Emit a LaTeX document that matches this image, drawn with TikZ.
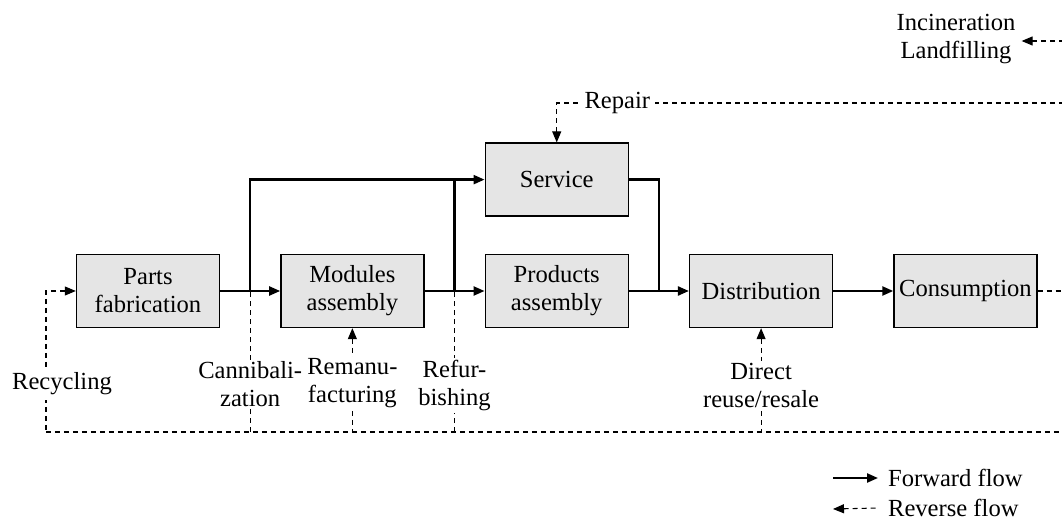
\documentclass[tikz,border=0pt]{standalone}
\usepackage{fontspec}
\setmainfont{Liberation Serif}
\usetikzlibrary{arrows.meta,positioning,calc}

\begin{document}
\begin{tikzpicture}[
  x=0.02cm, y=-0.02cm,
  node distance=12mm,
  font=\fontsize{14}{16}\selectfont,
  box/.style={rectangle, draw, line width=0.8pt, fill=black!10, align=center,
              inner sep=2pt, minimum width=28.6mm, minimum height=14.6mm},
  lbl/.style={fill=white, align=center, inner sep=1pt},
  arrow/.style={-{Triangle[length=2.2mm,width=1.8mm]}, line width=1.3pt},
  line/.style={line width=1.3pt},
  revline/.style={dash pattern=on 1mm off 0.8mm, line width=0.6pt},
  back/.style={{Triangle[length=2.2mm,width=1.8mm]}-, revline}
]
\useasboundingbox (0,0) rectangle (1062,520);

\node[box] (parts) at (148,291) {Parts\\fabrication};
\node[box, right=of parts] (modules) {Modules\\assembly};
\node[box, right=of modules] (products) {Products\\assembly};
\node[box, above=7.4mm of products] (service) {Service};
\node[box, right=of products] (distrib) {Distribution};
\node[box, right=of distrib] (consump) {Consumption};
\node[align=center] (incin) at (956,39) {Incineration\\Landfilling};

\coordinate (j1) at ($(parts.east)!0.5!(modules.west)$);
\coordinate (j2) at ($(modules.east)!0.5!(products.west)$);
\coordinate (j3) at ($(products.east)!0.5!(distrib.west)$);
\coordinate (bl) at (46,432);
\coordinate (br) at (1062,432);
\coordinate (cr) at (1062,291);
\coordinate (rr) at (1062,103);
\coordinate (ir) at (1062,41);
\coordinate (lf) at (833,478);
\coordinate (lr) at (833,509);

% forward flow
\draw[arrow] (parts) -- (modules);
\draw[arrow] (modules) -- (products);
\draw[arrow] (products) -- (distrib);
\draw[arrow] (distrib) -- (consump);
\draw[arrow] (j1) |- (service.west);
\draw[line] (j2) -- (j2 |- service.west);
\draw[line] (service.east) -| (j3);

% reverse flow
\draw[revline] (bl) -- (br);
\draw[back] (parts.west) -| (bl);
\node[lbl, inner sep=3pt] (recyc) at (62,384) {Recycling};
\draw[revline] (j1 |- bl) -- node[lbl, pos=0.34] (cannib) {Cannibali-\\zation} (j1);
\draw[back] (modules.south) -- node[lbl, pos=0.53] (reman) {Remanu-\\facturing} (modules.south |- bl);
\draw[revline] (j2 |- bl) -- node[lbl, pos=0.33] (refurb) {Refur-\\bishing} (j2);
\draw[back] (distrib.south) -- node[lbl, pos=0.55] (reuse) {Direct\\reuse/resale} (distrib.south |- bl);
\draw[revline] (consump) -- (cr);
\draw[back] (service.north) |- node[lbl, pos=0.56, inner sep=3pt] (repair) {Repair} (rr);
\draw[back] (incin.east |- ir) -- (ir);

% legend
\node[anchor=west, inner sep=1pt] (legf) at (886,478) {Forward flow};
\node[anchor=west, inner sep=1pt] (legr) at (886,508) {Reverse flow};
\draw[arrow] (lf) -- ([xshift=-1.6mm]legf.west);
\draw[back] (lr) -- ([xshift=-1.6mm]legr.west);
\end{tikzpicture}
\end{document}
